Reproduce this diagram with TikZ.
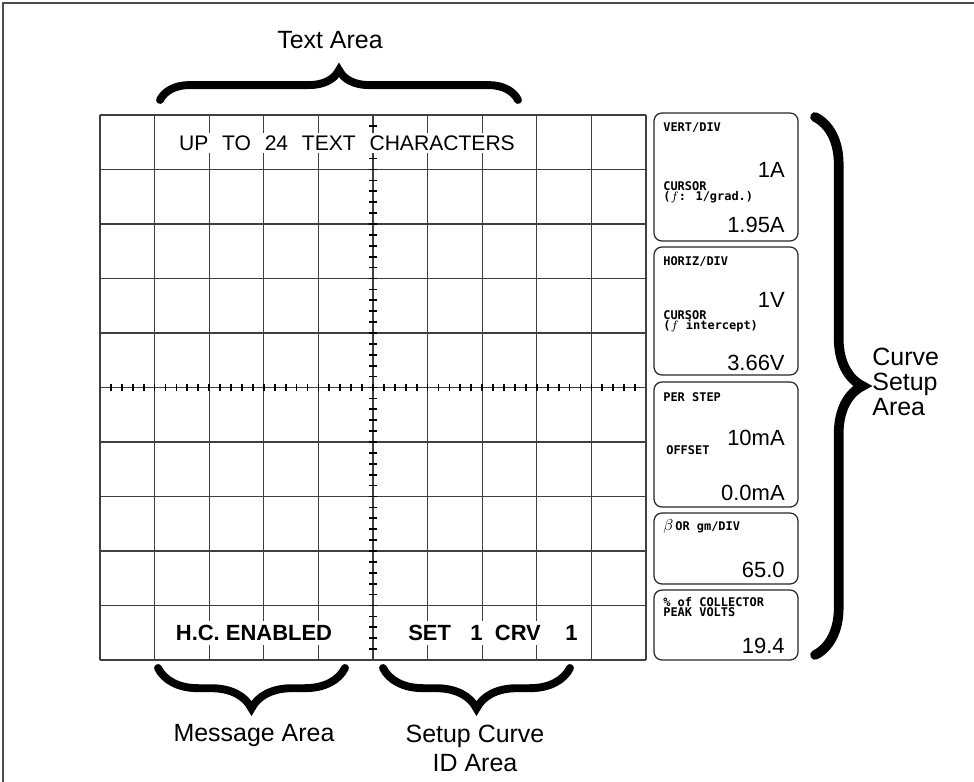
\documentclass[tikz,border=0pt]{standalone}
\usepackage{fontspec}
\setmainfont{Liberation Sans}
\newfontfamily\dotfont{DejaVu Sans Mono}
\usetikzlibrary{decorations.pathreplacing}

\newcommand{\wsp}{\hspace{0.65em}}

\tikzset{
  scrn/.style={line width=0.7pt, black!75},
  axtick/.style={line width=1pt, black},
  panel/.style={draw, rounded corners=4.5pt, line width=0.7pt, black!85},
  bigbrace/.style={decorate, decoration={brace, amplitude=#1}, line width=4.5pt, line cap=round},
  lbl/.style={font=\fontsize{14.2}{16.5}\selectfont, align=center, inner sep=0pt},
  scrtxt/.style={font=\fontsize{12}{12}\selectfont, fill=white, inner sep=1.5pt},
  scrbold/.style={font=\bfseries\fontsize{12.5}{13}\selectfont, fill=white, inner sep=2.5pt},
  dotlbl/.style={font=\dotfont\bfseries\fontsize{6.8}{5.9}\selectfont, anchor=west, align=left, inner sep=0pt},
  val/.style={font=\fontsize{12.5}{12.5}\selectfont, anchor=east, inner sep=0pt}
}

\begin{document}
\begin{tikzpicture}[scale=0.2]
\useasboundingbox (0,0) rectangle (97.4,-78.2);
% frame
\draw [line width=1.2pt, black!70] (0.3,-78.2) -- (0.3,-0.3) -- (97.4,-0.3);

% graticule
\foreach \i in {0,...,10} {
  \draw [scrn] (10+5.46*\i,-11.5) -- (10+5.46*\i,-66);
  \draw [scrn] (10,-11.5-5.45*\i) -- (64.6,-11.5-5.45*\i);
}
\foreach \k in {1,...,49} {
  \draw [axtick] (36.9,-11.5-1.09*\k) -- (37.7,-11.5-1.09*\k);
  \draw [axtick] (10+1.092*\k,-38.4) -- (10+1.092*\k,-39.1);
}

% screen text
\node [scrtxt] (txtrow) at (34.7,-14.3) {UP\wsp TO\wsp 24\wsp TEXT\wsp CHARACTERS};
\node [scrbold] (msgrow) at (25.4,-63.3) {H.C. ENABLED};
\node [scrbold] (crvrow) at (49.3,-63.3) {SET\hspace{11pt}1\hspace{7pt}CRV\hspace{14pt}1};

% curve setup panels
\draw [panel] (65.4,-11.3) rectangle (79.8,-24.1);
\draw [panel] (65.4,-24.7) rectangle (79.8,-37.5);
\draw [panel] (65.4,-38.2) rectangle (79.8,-50.7);
\draw [panel] (65.4,-51.3) rectangle (79.8,-58.4);
\draw [panel] (65.4,-59.0) rectangle (79.8,-66.0);

\node [dotlbl] (vertT) at (66.3,-12.8) {VERT/DIV};
\node [val] (vertV) at (78.5,-17.0) {1A};
\node [dotlbl] (vertC) at (66.3,-19.2) {CURSOR\\($f$: 1/grad.)};
\node [val] (vertCV) at (78.5,-22.5) {1.95A};

\node [dotlbl] (horT) at (66.3,-26.2) {HORIZ/DIV};
\node [val] (horV) at (78.5,-30.0) {1V};
\node [dotlbl] (horC) at (66.3,-32.1) {CURSOR\\($f$ intercept)};
\node [val] (horCV) at (78.5,-36.3) {3.66V};

\node [dotlbl] (stepT) at (66.3,-39.7) {PER STEP};
\node [val] (stepV) at (78.5,-43.8) {10mA};
\node [dotlbl] (offT) at (66.6,-45.0) {OFFSET};
\node [val] (offV) at (78.5,-49.3) {0.0mA};

\node [dotlbl] (betaT) at (66.3,-52.7) {{\fontsize{9}{9}\selectfont$\beta$}\,OR gm/DIV};
\node [val] (betaV) at (78.5,-57.0) {65.0};

\node [dotlbl] (pkT) at (66.3,-60.7) {\% of COLLECTOR\\PEAK VOLTS};
\node [val] (pkV) at (78.5,-64.6) {19.4};

% braces
\coordinate (txtL) at (16.0,-10.0);
\coordinate (txtR) at (51.8,-10.0);
\coordinate (msgL) at (15.8,-66.8);
\coordinate (msgR) at (34.5,-66.8);
\coordinate (idL) at (38.3,-66.8);
\coordinate (idR) at (57.0,-66.8);
\coordinate (setT) at (81.5,-11.7);
\coordinate (setB) at (81.5,-65.5);
\draw [bigbrace=17pt] (txtL) -- (txtR);
\draw [bigbrace=23pt] (msgR) -- (msgL);
\draw [bigbrace=23pt] (idR) -- (idL);
\draw [bigbrace=27pt, line width=5.5pt] (setT) -- (setB);

% area labels
\node [lbl] (txtlbl) at (33.0,-4.0) {Text Area};
\node [lbl] (msglbl) at (25.4,-73.5) {Message Area};
\node [lbl] (idlbl) at (47.5,-74.8) {Setup Curve\\ID Area};
\node [lbl, anchor=west, align=left, font=\fontsize{14.2}{14.4}\selectfont] (setlbl) at (87.2,-38.2) {Curve\\Setup\\Area};
\end{tikzpicture}
\end{document}
